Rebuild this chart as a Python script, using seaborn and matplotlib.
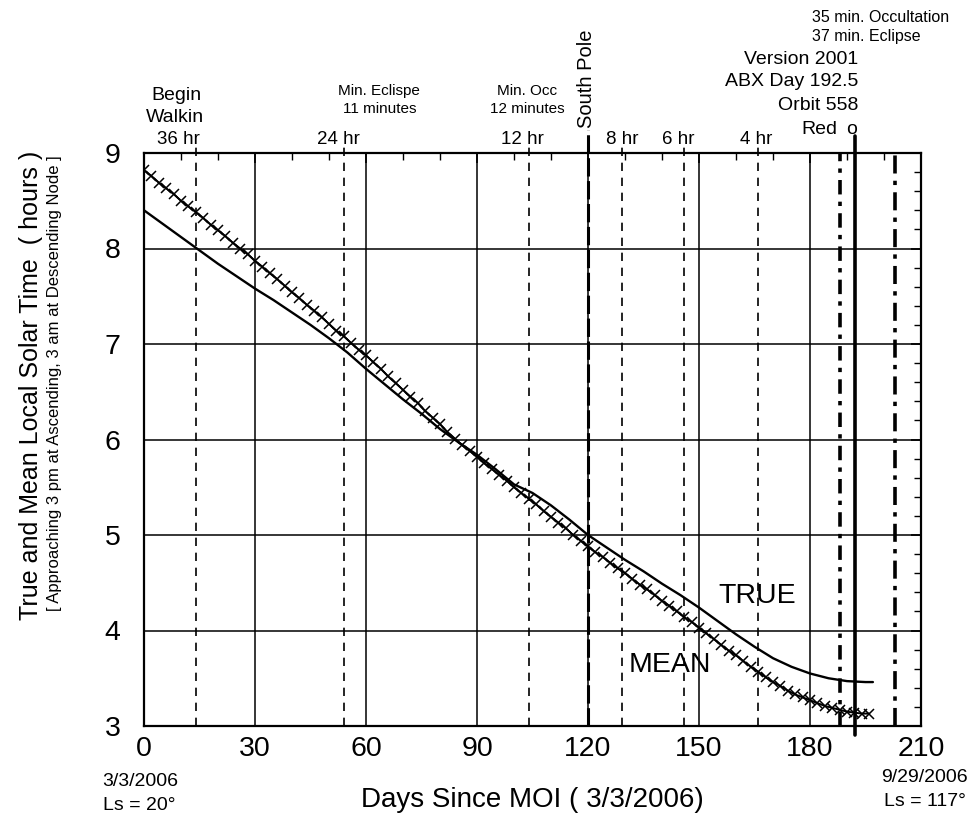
import seaborn as sns
import matplotlib.pyplot as plt
import pandas as pd
from matplotlib.ticker import MultipleLocator

# True local solar time (solid line), every 5 days
true_days = [0, 5, 10, 15, 20, 25, 30, 35, 40, 45, 50, 55, 60, 65, 70, 75, 80,
             85, 90, 95, 100, 105, 110, 115, 120, 125, 130, 135, 140, 145, 150,
             155, 160, 165, 170, 175, 180, 185, 190, 195, 197]
true_hours = [8.40, 8.26, 8.12, 7.98, 7.84, 7.71, 7.58, 7.46, 7.33, 7.20, 7.06,
              6.91, 6.74, 6.58, 6.42, 6.27, 6.11, 5.97, 5.84, 5.69, 5.53, 5.44,
              5.31, 5.16, 5.00, 4.87, 4.74, 4.62, 4.49, 4.37, 4.24, 4.10, 3.96,
              3.83, 3.71, 3.62, 3.55, 3.50, 3.47, 3.46, 3.46]

# Mean local solar time (x markers), every 2 days
mean_days = list(range(0, 197, 2))
mean_hours = [8.82, 8.76, 8.69, 8.63, 8.57, 8.50, 8.44, 8.38, 8.32, 8.25,
              8.19, 8.13, 8.06, 8.00, 7.94, 7.87, 7.81, 7.74, 7.68, 7.61,
              7.54, 7.48, 7.41, 7.35, 7.28, 7.21, 7.14, 7.08, 7.01, 6.94,
              6.88, 6.81, 6.74, 6.66, 6.59, 6.52, 6.45, 6.38, 6.30, 6.23,
              6.16, 6.08, 6.01, 5.94, 5.88, 5.82, 5.75, 5.69, 5.63, 5.57,
              5.50, 5.44, 5.38, 5.32, 5.25, 5.19, 5.13, 5.07, 5.00, 4.94,
              4.88, 4.82, 4.77, 4.71, 4.65, 4.60, 4.54, 4.48, 4.43, 4.37,
              4.31, 4.26, 4.20, 4.14, 4.09, 4.03, 3.97, 3.91, 3.85, 3.79,
              3.74, 3.68, 3.62, 3.57, 3.51, 3.46, 3.42, 3.37, 3.33, 3.30,
              3.27, 3.24, 3.21, 3.19, 3.17, 3.15, 3.14, 3.13, 3.13]

# thin dashed event lines (hours of eclipse/occultation lead time)
hr_days = [14, 54, 104, 129.3, 146, 166]
hr_labels = ['36 hr', '24 hr', '12 hr', '8 hr', '6 hr', '4 hr']
south_pole_day = 120
red_day = 188
abx_day = 192.2
end_day = 203

df_true = pd.DataFrame({'day': true_days, 'hours': true_hours})
df_mean = pd.DataFrame({'day': mean_days, 'hours': mean_hours})

sns.set_style("white", {'text.color': 'black', 'axes.labelcolor': 'black',
                        'xtick.color': 'black', 'ytick.color': 'black'})
plt.rcParams['font.family'] = ['Liberation Sans', 'DejaVu Sans']
plt.rcParams['text.color'] = 'black'

W, H = 971, 819
fig = plt.figure(figsize=(W / 100, H / 100), dpi=100)
ax = fig.add_axes([144 / W, 1 - 726 / H, (921 - 144) / W, (726 - 153) / H])


def px(x, y):
    return x / W, 1 - y / H


sns.lineplot(data=df_true, x='day', y='hours', ax=ax, color='black', lw=1.7)
sns.lineplot(data=df_mean, x='day', y='hours', ax=ax, color='black', lw=1.4,
             marker='x', markersize=6.5, markeredgewidth=1.1,
             markeredgecolor='black')

ax.set_xlim(0, 210)
ax.set_ylim(3, 9)
ax.xaxis.set_major_locator(MultipleLocator(30))
ax.xaxis.set_minor_locator(MultipleLocator(10))
ax.yaxis.set_major_locator(MultipleLocator(1))
ax.yaxis.set_minor_locator(MultipleLocator(0.2))
ax.grid(True, which='major', color='black', lw=1.1)
ax.tick_params(which='both', direction='in', top=True, right=True,
               colors='black', labelsize=20.5)
ax.tick_params(which='major', length=7, width=1.2)
ax.tick_params(which='minor', length=5, width=1.0)
ax.tick_params(axis='x', pad=7)
ax.tick_params(axis='y', pad=17)
for s in ax.spines.values():
    s.set_color('black')
    s.set_linewidth(1.6)
ax.set_xlabel('')
ax.set_ylabel('')

# event lines
for d in hr_days:
    ax.axvline(d, ymin=0, ymax=1.02, color='black', lw=1.2,
               ls=(0, (5, 4)), clip_on=False)
ax.axvline(south_pole_day, ymin=0, ymax=1.04, color='black', lw=2.2,
           ls=(0, (6, 1.5)), clip_on=False)
ax.axvline(red_day, color='black', lw=2.6, ls=(0, (4, 2, 1.2, 2)))
ax.axvline(abx_day, ymin=-0.015, ymax=1.03, color='black', lw=2.6,
           clip_on=False)
ax.axvline(end_day, color='black', lw=2.6, ls=(0, (5, 2, 1.2, 2)))

# curve labels
fig.text(*px(757, 596), 'TRUE', fontsize=20.5, ha='center', va='center')
fig.text(*px(670, 665), 'MEAN', fontsize=20.5, ha='center', va='center')

# top annotations
hr_px = [178, 338, 522, 622, 678, 756]
for x, lab in zip(hr_px, hr_labels):
    fig.text(*px(x, 139), lab, fontsize=13.5, ha='center', va='center')
fig.text(*px(176, 95), 'Begin', fontsize=14, ha='center', va='center')
fig.text(*px(175, 117), 'Walkin', fontsize=14, ha='center', va='center')
fig.text(*px(379, 91), 'Min. Eclispe', fontsize=11, ha='center', va='center')
fig.text(*px(380, 109), '11 minutes', fontsize=11, ha='center', va='center')
fig.text(*px(527, 91), 'Min. Occ', fontsize=11, ha='center', va='center')
fig.text(*px(527, 109), '12 minutes', fontsize=11, ha='center', va='center')
fig.text(*px(587, 79), 'South Pole', fontsize=14.5, rotation=90,
         ha='center', va='center')
fig.text(*px(858, 59), 'Version 2001', fontsize=14, ha='right', va='center')
fig.text(*px(858, 82), 'ABX Day 192.5', fontsize=14, ha='right', va='center')
fig.text(*px(858, 106), 'Orbit 558', fontsize=14, ha='right', va='center')
fig.text(*px(819, 130), 'Red', fontsize=14, ha='center', va='center')
fig.text(*px(852, 130), 'o', fontsize=14, ha='center', va='center')
fig.text(*px(812, 17), '35 min. Occultation', fontsize=11.5, ha='left', va='center')
fig.text(*px(812, 37), '37 min. Eclipse', fontsize=11.5, ha='left', va='center')

# axis titles
fig.text(*px(31, 385), 'True and Mean Local Solar Time  ( hours )',
         fontsize=18, rotation=90, ha='center', va='center')
fig.text(*px(55, 383), '[ Approaching 3 pm at Ascending, 3 am at Descending Node ]',
         fontsize=12, rotation=90, ha='center', va='center')
fig.text(*px(532, 800), 'Days Since MOI ( 3/3/2006)', fontsize=20,
         ha='center', va='center')
fig.text(*px(140, 782), '3/3/2006', fontsize=14, ha='center', va='center')
fig.text(*px(103, 805), 'Ls = 20°', fontsize=14, ha='left', va='center')
fig.text(*px(968, 778), '9/29/2006', fontsize=14, ha='right', va='center')
fig.text(*px(966, 802), 'Ls = 117°', fontsize=14, ha='right', va='center')

fig.savefig('out.png', dpi=100, facecolor='white')
plt.close(fig)
